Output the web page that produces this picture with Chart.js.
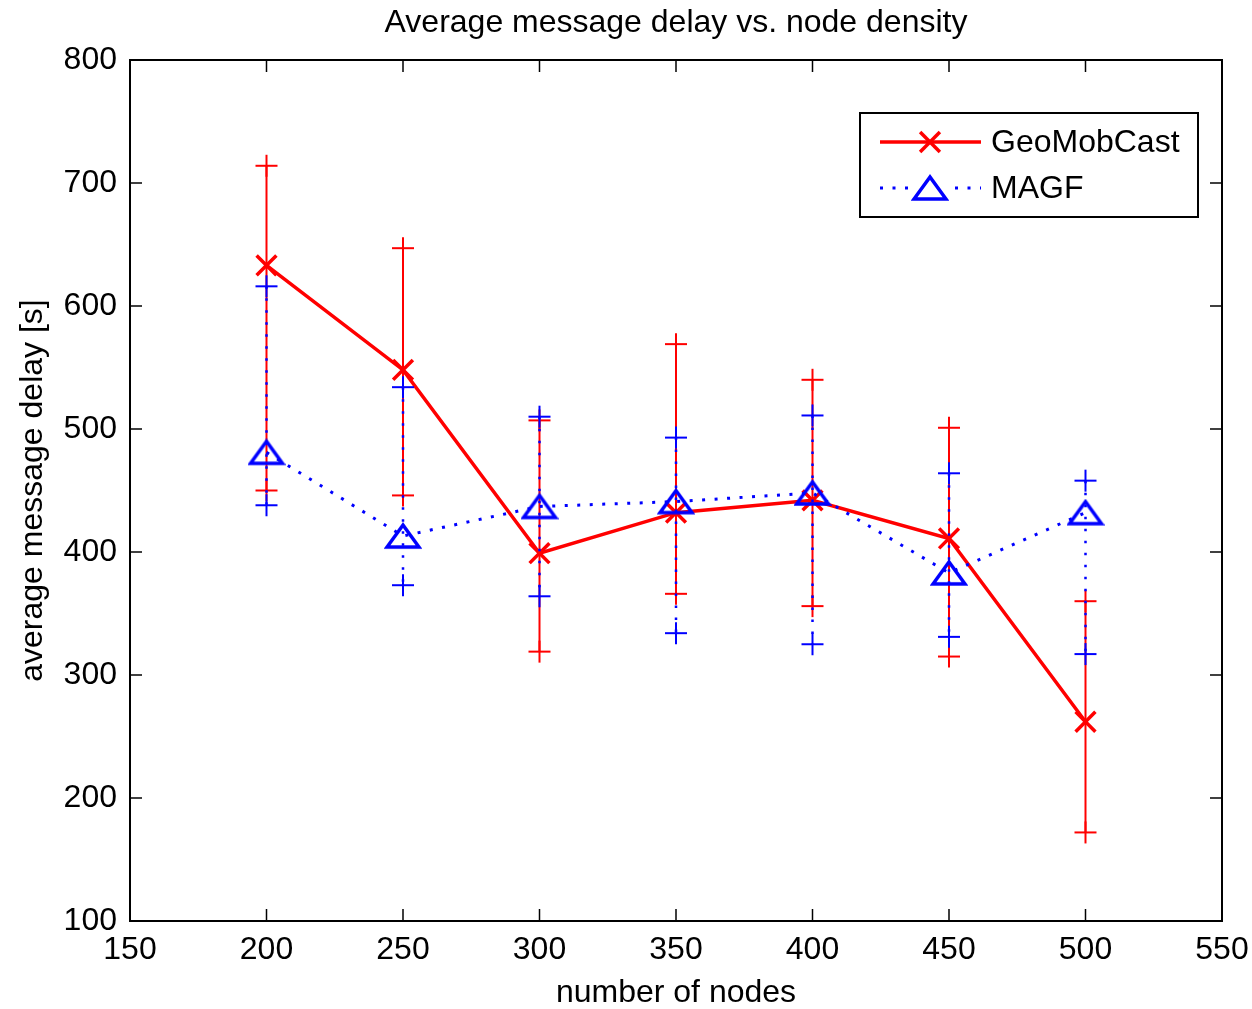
<!DOCTYPE html>
<html>
<head>
<meta charset="utf-8">
<title>Average message delay vs. node density</title>
<script src="https://cdn.jsdelivr.net/npm/chart.js@4.4.1/dist/chart.umd.min.js"></script>
<style>
  html, body { margin: 0; padding: 0; background: #fff; }
  #chart { display: block; }
</style>
</head>
<body>
<canvas id="chart" width="1252" height="1009"></canvas>
<script>
// values
const nodeCounts = [200, 250, 300, 350, 400, 450, 500];

const geoMean  = [633, 548, 399, 432, 442, 411, 262];
const geoUpper = [714, 647, 507, 569, 540, 501, 360];
const geoLower = [450, 446, 319, 366, 356, 315, 172];

const magfMean  = [481, 413, 437, 441, 448, 383, 432];
const magfUpper = [616, 534, 510, 493, 511, 464, 458];
const magfLower = [438, 373, 364, 334, 325, 331, 317];

const xTicks = [150, 200, 250, 300, 350, 400, 450, 500, 550];
const yTicks = [100, 200, 300, 400, 500, 600, 700, 800];

const chartTitle = 'Average message delay vs. node density';

const RED = '#ff0000';
const BLUE = '#0000ff';
const FONT = { family: "'Liberation Sans', Arial, Helvetica, sans-serif", size: 32, weight: 'normal' };

// hollow, slightly flattened triangle like the matlab '^' marker
function makeTriangle() {
    const c = document.createElement('canvas');
    c.width = 38;
    c.height = 28;
    const g = c.getContext('2d');
    g.strokeStyle = BLUE;
    g.lineWidth = 3.5;
    g.lineJoin = 'miter';
    g.beginPath();
    g.moveTo(19, 3);
    g.lineTo(3, 25);
    g.lineTo(35, 25);
    g.closePath();
    g.stroke();
    return c;
}
const triangle = makeTriangle();

function toPoints(xs, ys) {
    return xs.map((x, i) => ({ x: x, y: ys[i] }));
}

function line(ctx, x1, y1, x2, y2) {
    ctx.beginPath();
    ctx.moveTo(x1, y1);
    ctx.lineTo(x2, y2);
    ctx.stroke();
}

// vertical error bars with "+" ends, drawn just before their own series
const errorBars = {
    id: 'errorBars',
    beforeDatasetDraw(chart, args) {
        const ds = chart.data.datasets[args.index];
        if (!ds.lower) return;
        const { ctx, scales: { x, y } } = chart;
        ctx.save();
        ctx.strokeStyle = ds.borderColor;
        ds.data.forEach((p, i) => {
            const px = x.getPixelForValue(p.x);
            const top = y.getPixelForValue(ds.upper[i]);
            const bot = y.getPixelForValue(ds.lower[i]);
            ctx.lineWidth = ds.barWidth;
            ctx.setLineDash(ds.barDash);
            line(ctx, px, top, px, bot);
            ctx.setLineDash([]);
            ctx.lineWidth = 2;
            [top, bot].forEach(py => {
                line(ctx, px - 11, py, px + 11, py);
                line(ctx, px, py - 11, px, py + 11);
            });
        });
        ctx.restore();
    }
};

// matlab style box, inward ticks, title and legend
const matlabAxes = {
    id: 'matlabAxes',
    afterDraw(chart) {
        const { ctx, chartArea: a, scales: { x, y } } = chart;
        ctx.save();
        ctx.strokeStyle = '#000';
        ctx.lineWidth = 1.5;
        x.ticks.forEach(t => {
            const px = x.getPixelForValue(t.value);
            line(ctx, px, a.bottom, px, a.bottom - 12);
            line(ctx, px, a.top, px, a.top + 12);
        });
        y.ticks.forEach(t => {
            const py = y.getPixelForValue(t.value);
            line(ctx, a.left, py, a.left + 12, py);
            line(ctx, a.right, py, a.right - 12, py);
        });
        ctx.lineWidth = 2;
        ctx.strokeRect(a.left, a.top, a.right - a.left, a.bottom - a.top);

        ctx.font = `${FONT.size}px ${FONT.family}`;
        ctx.fillStyle = '#000';
        ctx.textBaseline = 'middle';
        ctx.textAlign = 'center';
        ctx.fillText(chartTitle, (a.left + a.right) / 2, a.top - 37);

        // legend
        const bx = a.right - 362, by = a.top + 53, bw = 338, bh = 104;
        ctx.fillStyle = '#fff';
        ctx.fillRect(bx, by, bw, bh);
        ctx.strokeRect(bx, by, bw, bh);
        const ds = chart.data.datasets;
        const rows = [by + 29, by + 75];
        ctx.textAlign = 'left';
        ds.forEach((d, i) => {
            const ly = rows[i];
            ctx.strokeStyle = d.borderColor;
            ctx.lineWidth = d.borderWidth;
            ctx.setLineDash(d.borderDash || []);
            line(ctx, bx + 20, ly, bx + 121, ly);
            ctx.setLineDash([]);
            const cx = bx + 70;
            if (d.pointStyle === 'crossRot') {
                ctx.lineWidth = d.pointBorderWidth;
                const r = d.pointRadius * Math.SQRT1_2;
                line(ctx, cx - r, ly - r, cx + r, ly + r);
                line(ctx, cx - r, ly + r, cx + r, ly - r);
            } else {
                ctx.fillStyle = '#fff';
                ctx.fillRect(cx - 20, ly - 8, 40, 16);
                ctx.drawImage(d.pointStyle, cx - d.pointStyle.width / 2, ly - d.pointStyle.height / 2);
            }
            ctx.fillStyle = '#000';
            ctx.fillText(d.label, bx + 131, ly + 1);
        });
        ctx.restore();
    }
};

new Chart(document.getElementById('chart'), {
    type: 'line',
    data: {
        datasets: [
            {
                label: 'GeoMobCast',
                data: toPoints(nodeCounts, geoMean),
                upper: geoUpper,
                lower: geoLower,
                barWidth: 2,
                barDash: [],
                borderColor: RED,
                borderWidth: 3.5,
                pointStyle: 'crossRot',
                pointRadius: 14,
                pointBorderWidth: 3.5,
                pointBorderColor: RED,
                pointBackgroundColor: RED,
                tension: 0,
                fill: false,
                order: 2
            },
            {
                label: 'MAGF',
                data: toPoints(nodeCounts, magfMean),
                upper: magfUpper,
                lower: magfLower,
                barWidth: 2.5,
                barDash: [2.5, 9.5],
                borderColor: BLUE,
                borderWidth: 3,
                borderDash: [3, 9.5],
                pointStyle: triangle,
                pointRadius: 14,
                tension: 0,
                fill: false,
                order: 1
            }
        ]
    },
    options: {
        responsive: false,
        animation: false,
        events: [],
        layout: { padding: { left: 0, right: 30, top: 60, bottom: 0 } },
        plugins: {
            legend: { display: false },
            tooltip: { enabled: false },
            title: { display: false }
        },
        scales: {
            x: {
                type: 'linear',
                min: 150,
                max: 550,
                afterBuildTicks: s => { s.ticks = xTicks.map(v => ({ value: v })); },
                afterFit: s => { s.height = 88; s.paddingRight = 0; },
                grid: { display: false, drawTicks: false },
                border: { display: false },
                ticks: { color: '#000', font: FONT, padding: 10, maxRotation: 0, autoSkip: false },
                title: {
                    display: true,
                    text: 'number of nodes',
                    color: '#000',
                    font: FONT,
                    padding: { top: 0, bottom: -3 }
                }
            },
            y: {
                min: 100,
                max: 800,
                afterBuildTicks: s => { s.ticks = yTicks.map(v => ({ value: v })); },
                afterFit: s => { s.width = 130; s.paddingTop = 0; },
                grid: { display: false, drawTicks: false },
                border: { display: false },
                ticks: { color: '#000', font: FONT, padding: 13, autoSkip: false },
                title: {
                    display: true,
                    text: 'average message delay [s]',
                    color: '#000',
                    font: FONT,
                    padding: { top: 14, bottom: 0 }
                }
            }
        }
    },
    plugins: [errorBars, matlabAxes]
});
</script>
</body>
</html>
